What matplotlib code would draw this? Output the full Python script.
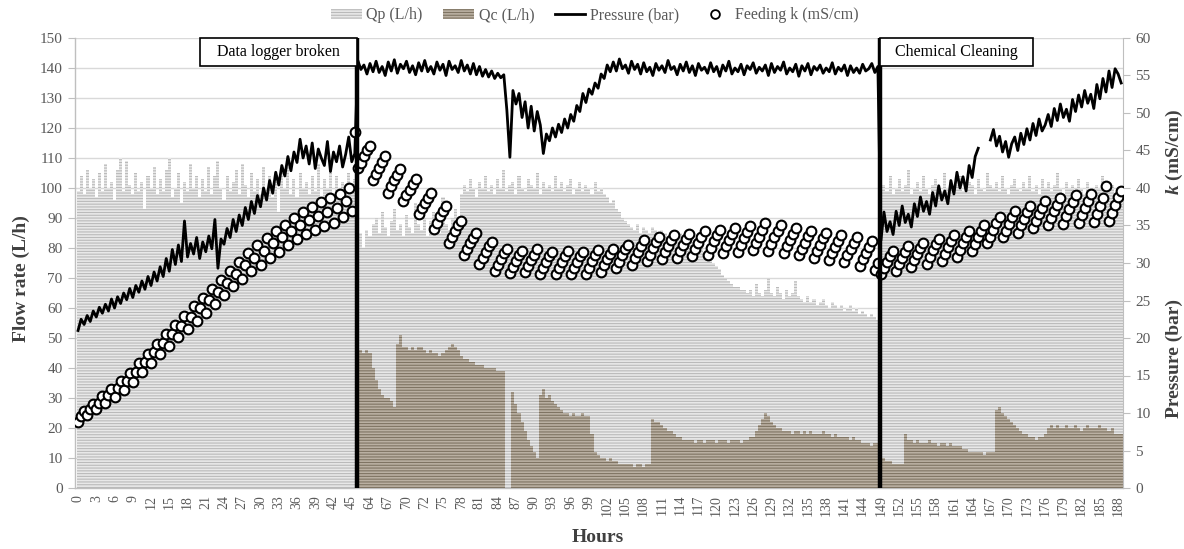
import numpy as np
import matplotlib
matplotlib.use("Agg")
import matplotlib.pyplot as plt
from matplotlib.patches import Patch, Rectangle
from matplotlib.lines import Line2D

# ---------------------------------------------------------------- data
# x-axis tick labels (hours), one label every few logged samples
hour_labels = [0, 3, 6, 9, 12, 15, 18, 21, 24, 27, 30, 33, 36, 39, 42, 45,
               64, 67, 70, 72, 75, 78, 81, 84, 87, 90, 93, 96, 99, 102, 105,
               108, 111, 114, 117, 120, 123, 126, 129, 132, 135, 138, 141, 144,
               149, 152, 155, 158, 161, 164, 167, 170, 173, 176, 179, 182, 185, 188]

# permeate flow Qp (L/h): before logger break / until cleaning / after cleaning
qp_first = [99, 104, 98, 106, 100, 103, 97, 105, 99, 108, 100, 102, 96, 106, 110, 99, 109, 101, 98, 105, 99, 102, 93, 104,
            100, 107, 98, 103, 99, 106, 110, 97, 100, 105, 95, 102, 99, 108, 100, 104, 97, 103, 99, 107, 98, 104, 109, 100,
            96, 104, 99, 102, 106, 98, 108, 101, 97, 105, 99, 103, 98, 107, 100, 104, 97, 102, 92, 106, 100, 110, 98, 103,
            97, 105, 100, 102, 98, 104, 99, 108, 96, 103, 100, 106, 98, 104, 99, 102, 100, 105, 98, 103]
qp_second = [82, 85, 80, 86, 84, 88, 90, 85, 92, 87, 84, 89, 93, 86, 88, 84, 91, 87, 85, 95, 88, 86, 90, 84, 89, 92, 87, 85, 97, 88, 86, 90, 93, 89,
             98, 101, 99, 103, 100, 97, 102, 100, 104, 99, 101, 98, 103, 100, 106, 99, 101, 102, 98, 104, 100, 99, 103, 101,
             100, 105, 98, 102, 100, 101, 99, 104, 100, 102, 99, 101, 103, 98, 100, 102, 99, 101, 100, 98, 102, 99, 100,
             98, 97, 95, 96, 93, 92, 90, 89,
             88, 87, 86, 88, 85, 87, 86, 85, 87, 86, 84, 86, 85, 84, 85, 83, 84, 85, 83, 82, 84, 82, 81, 82,
             80, 78, 79, 76, 75, 74, 73, 71, 70, 69, 68, 67, 67, 66, 66,
             65, 66, 64, 68, 65, 64, 66, 70, 65, 64, 67, 65, 63, 66, 64, 65, 69, 64,
             63, 62, 64, 62, 63, 61, 62, 63, 61, 60, 62, 61, 60, 61, 59, 60, 61, 59, 60, 58, 59, 58, 57, 58, 57, 56]
qp_third = [97, 101, 99, 104, 98, 100, 103, 99, 101, 106, 98, 100, 102, 99, 104, 100, 98, 101, 103, 100, 99, 105, 100, 102,
            98, 101, 104, 99, 100, 102, 101, 98, 103, 100, 99, 105, 101, 100, 102, 99, 104, 100, 98, 101, 103, 100, 99, 102,
            100, 104, 99, 101, 98, 103, 100, 102, 99, 101, 105, 100, 98, 102, 100, 101, 99, 103, 100, 98, 102, 100,
            99, 101, 100, 104, 99, 100, 101, 98, 100, 99]

# concentrate flow Qc (L/h); nothing logged during the first period
qc_first = [0] * 92
qc_second = [44, 46, 45, 46, 45, 40, 36, 33, 31, 30, 30, 29, 27,
             48, 51, 47, 47, 46, 47, 46, 47, 47, 46, 45, 46, 45, 45, 44, 45, 46, 47, 48, 47,
             46, 44, 43, 43, 42, 42, 41, 41, 41, 40, 40, 40, 40, 39, 39, 39,
             0, 0,
             32, 28, 25, 22, 19, 16, 14, 12, 10,
             31, 33, 30, 31, 29, 28,
             27, 26, 25, 25, 24, 25, 24, 24, 25, 24, 24,
             18, 12, 11, 10, 10, 9, 10, 9, 9, 8, 8, 8, 8, 8, 7, 8, 8, 7, 8, 8,
             23, 22, 22, 21, 20, 19, 19, 18, 17, 17, 16, 16, 16,
             16, 15, 16, 16, 15, 16, 16, 16, 15, 16, 16, 16, 15, 16, 16, 16, 15, 16, 16, 17, 17,
             19, 21, 23, 25, 24, 22,
             21, 20, 20, 19, 19, 19, 18, 19, 19, 18, 19, 18, 19, 18, 18, 18, 19, 18, 18,
             17, 18, 17, 17, 17, 17, 16, 17, 16, 16,
             15, 15, 15, 14, 15, 15]
qc_third = [11, 10, 9, 9, 8, 8, 8, 8,
            18, 16, 16, 15, 16, 15, 15, 15, 16, 15, 15, 14, 15, 15, 14, 15, 14, 14, 14,
            13, 13, 12, 12, 12, 12, 12, 11, 12, 12, 12,
            26, 27, 25, 24, 23, 22, 21, 20, 19, 18, 18, 17,
            17, 16, 17, 17, 18,
            20, 21, 20, 21, 20, 20, 21, 20, 20, 21, 20, 19, 20, 21, 20, 20, 20, 21, 20, 20, 19, 20, 18, 18, 18]

# operating pressure (bar); nan = no reading
nan = np.nan
pressure_first = [21.0, 22.5, 21.8, 23.0, 22.2, 23.6, 22.8, 24.1, 23.3, 24.5, 23.6, 25.2, 24.0, 25.5, 24.6, 26.0, 25.1, 26.6, 25.4, 27.0, 26.1, 27.6, 26.5, 28.2,
                  27.0, 28.8, 27.6, 29.5, 28.2, 30.6, 28.9, 31.8, 29.8, 32.4, 30.2, 35.6, 30.8, 32.6, 31.2, 33.4, 30.6, 32.8, 31.5, 33.6, 31.9, 35.8, 29.3, 33.2,
                  32.5, 34.6, 33.4, 35.8, 34.2, 36.4, 35.0, 37.4, 35.8, 38.2, 36.6, 39.0, 37.5, 40.0, 38.4, 41.0, 39.3, 42.1, 40.4, 43.0, 41.6, 44.2, 42.3, 44.8,
                  43.4, 46.5, 44.0, 45.6, 43.2, 46.0, 42.6, 45.2, 44.0, 43.0, 46.2, 42.2, 44.8, 43.5, 45.6, 42.8, 44.5, 46.8, 43.5, 44.6]
pressure_second = [57.0, 55.8, 56.4, 55.2, 56.6, 55.5, 56.9, 55.4, 56.2, 55.0, 56.8, 55.6, 57.1, 55.3, 56.5, 55.9, 56.9, 55.4, 56.3, 55.1, 56.7, 55.6, 57.0, 55.5,
                   56.2, 55.2, 56.8, 55.7, 56.5, 55.0, 56.9, 55.8, 56.3, 55.4, 57.0, 55.6, 56.4, 55.2, 56.6, 55.1, 56.2, 54.9, 55.8, 54.8, 55.6, 54.6, 55.3, 54.7, 55.1,
                   50.4, 44.1, 53.0, 51.2, 52.6, 49.4, 51.5, 48.0, 50.9, 47.6, 50.2, 48.4,
                   44.6, 47.2, 46.3, 48.0, 46.8, 48.5, 47.4, 49.2, 48.0, 49.8, 48.9, 51.0, 50.2, 52.6, 51.4, 53.2, 52.5, 54.0, 53.3, 55.2, 54.6, 56.4, 55.5,
                   56.8, 55.6, 57.2, 55.9, 56.4, 55.3, 56.9, 55.8, 56.5, 55.2, 56.7, 55.5, 56.1, 55.0, 56.6, 55.7, 56.3, 55.4, 57.0, 55.8, 56.2, 55.1, 56.5, 55.6,
                   56.8, 55.4, 56.3, 55.0, 56.6, 55.7, 56.1, 55.3, 56.7, 55.5, 56.2, 54.9, 56.4, 55.6, 56.9, 55.2, 56.0, 55.5, 56.5, 55.1, 56.3, 55.8, 56.7, 55.3,
                   56.1, 55.6, 56.4, 55.0, 56.6, 55.4, 56.2, 55.7, 56.8, 55.2, 56.0, 55.5, 56.5, 54.9, 56.3, 55.6, 56.6, 55.1, 56.2, 55.7, 56.4, 55.3, 56.0, 55.5,
                   56.7, 55.2, 56.1, 55.6, 56.4, 55.0, 56.3, 55.4, 56.0, 55.3, 56.5, 55.6, 55.9, 56.6, 55.4, 56.2]
pressure_third = [33.0, 36.8, 34.2, 35.5, 33.8, 36.9, 35.0, 37.6, 35.4, 36.5, 34.8, 37.9, 36.2, 38.8, 36.9, 38.2, 36.5, 39.4, 37.6, 40.3,
                  38.4, 39.6, 37.9, 41.0, 39.2, 42.1, 40.0, 41.5, 39.6, 43.0, 41.4, 44.2, 45.3,
                  nan, nan, nan,
                  46.4, 47.8, 45.6, 46.9, 44.8, 46.2, 44.1, 45.9, 46.8, 45.0, 47.3, 45.8, 47.9, 46.4, 48.6, 47.0, 49.2, 47.6, 48.4, 49.8,
                  48.2, 50.6, 49.0, 51.2, 49.4, 50.5, 48.9, 51.8, 50.2, 52.4, 50.8, 53.0, 51.3, 52.5, 50.6, 53.8, 51.9, 54.6, 52.8, 55.6,
                  53.4, 55.9, 55.2, 54.0]

# feed conductivity k (mS/cm)
k_first = [8.8, 9.6, 10.3, 9.7, 10.6, 11.2, 10.5, 11.4, 12.3, 11.3, 12.4, 13.2, 12.2, 13.3, 14.3, 13.1, 14.3, 15.4,
           14.2, 15.5, 16.7, 15.5, 16.8, 17.9, 16.7, 18.1, 19.2, 17.9, 19.3, 20.5, 19.0, 20.5, 21.8, 20.1, 21.6, 23.0,
           21.2, 22.8, 24.3, 22.3, 24.0, 25.4, 23.4, 25.1, 26.6, 24.5, 26.2, 27.8, 25.7, 27.4, 29.0, 26.9, 28.6, 30.2,
           27.9, 29.7, 31.3, 28.9, 30.7, 32.4, 29.8, 31.6, 33.3, 30.7, 32.6, 34.2, 31.5, 33.4, 35.1, 32.4, 34.3, 36.0,
           33.2, 35.1, 36.8, 33.9, 35.8, 37.5, 34.4, 36.3, 38.1, 34.9, 36.8, 38.6, 35.4, 37.3, 39.2, 36.1, 38.2, 40.0,
           36.9, 47.5]
k_second = [42.6, 43.4, 44.2, 45.0, 45.6, 41.0, 41.9, 42.7, 43.5, 44.2, 39.4, 40.3, 41.1, 41.8, 42.5,
            38.3, 39.0, 39.8, 40.5, 41.2, 36.5, 37.3, 38.0, 38.7, 39.4, 34.5, 35.4, 36.2, 36.9, 37.6,
            32.7, 33.5, 34.2, 35.0, 35.6, 31.0, 31.9, 32.6, 33.3, 34.0, 29.9, 30.7, 31.5, 32.2, 32.8,
            29.0, 29.8, 30.6, 31.3, 31.9, 28.7, 29.5, 30.3, 31.0, 31.6, 28.8, 29.6, 30.4, 31.1, 31.8,
            28.6, 29.4, 30.2, 30.9, 31.5, 28.5, 29.3, 30.1, 30.9, 31.6, 28.5, 29.4, 30.2, 30.9, 31.5,
            28.6, 29.4, 30.3, 31.0, 31.7, 28.8, 29.7, 30.5, 31.2, 31.9, 29.3, 30.2, 31.0, 31.8, 32.4,
            29.8, 30.7, 31.5, 32.3, 33.0, 30.3, 31.1, 32.0, 32.8, 33.5, 30.5, 31.4, 32.2, 33.0, 33.7,
            30.7, 31.6, 32.4, 33.2, 33.9, 30.9, 31.8, 32.7, 33.5, 34.2, 31.1, 32.0, 32.9, 33.7, 34.4,
            31.3, 32.2, 33.1, 33.9, 34.7, 31.5, 32.4, 33.3, 34.1, 34.9, 31.7, 32.6, 33.5, 34.4, 35.3,
            31.6, 32.5, 33.4, 34.3, 35.0, 31.3, 32.2, 33.1, 33.9, 34.6, 31.0, 31.9, 32.7, 33.6, 34.3,
            30.7, 31.6, 32.4, 33.3, 34.0, 30.4, 31.3, 32.1, 32.9, 33.7, 30.1, 31.0, 31.8, 32.6, 33.4,
            29.6, 30.5, 31.3, 32.1, 32.9, 29.1, 30.0]
k_third = [28.5, 29.3, 30.1, 30.9, 31.6, 29.0, 29.9, 30.7, 31.5, 32.2, 29.5, 30.4, 31.2, 32.0, 32.7,
           29.9, 30.8, 31.7, 32.5, 33.2, 30.3, 31.2, 32.1, 32.9, 33.7, 30.8, 31.7, 32.6, 33.4, 34.2,
           31.6, 32.5, 33.4, 34.3, 35.1, 32.6, 33.5, 34.4, 35.3, 36.1, 33.4, 34.3, 35.2, 36.1, 36.9,
           34.0, 35.0, 35.9, 36.8, 37.6, 34.6, 35.6, 36.5, 37.4, 38.2, 35.0, 36.0, 36.9, 37.8, 38.6,
           35.2, 36.2, 37.2, 38.1, 39.0, 35.4, 36.4, 37.4, 38.3, 39.2, 35.5, 36.5, 37.6, 38.6, 40.2,
           35.6, 36.7, 37.8, 38.8, 39.6]

qp = np.array(qp_first + qp_second + qp_third, dtype=float)
qc = np.array(qc_first + qc_second + qc_third, dtype=float)
pressure = np.array(pressure_first + pressure_second + pressure_third, dtype=float)
k_feed = np.array(k_first + k_second + k_third, dtype=float)

# ---------------------------------------------------------------- style
plt.rcParams["font.family"] = ["Liberation Serif", "DejaVu Serif"]
plt.rcParams["hatch.linewidth"] = 0.8
plt.rcParams["mathtext.fontset"] = "custom"
plt.rcParams["mathtext.it"] = "Liberation Serif:italic:bold"
plt.rcParams["mathtext.rm"] = "Liberation Serif:bold"

TXT = "#595959"
AXC = "#bfbfbf"
QP_FACE, QP_HATCH = "#e8e8e8", "#bababa"
QC_FACE, QC_HATCH = "#bab0a2", "#7f7463"
SAMPLES_PER_TICK = 6

fig = plt.figure(figsize=(11.84, 5.49), dpi=100)
ax = fig.add_axes([75 / 1184, 61 / 549, 1048 / 1184, 450 / 549])

x = np.arange(len(qp))
ax.bar(x, qp, width=1.0, color=QP_FACE, edgecolor=QP_HATCH, hatch="------", linewidth=0, zorder=2)
ax.bar(x, qc, width=1.0, color=QC_FACE, edgecolor=QC_HATCH, hatch="------", linewidth=0, zorder=3)

ax.set_xlim(-1.0, 343.6)
ax.set_ylim(0, 150)
ax.set_yticks(np.arange(0, 151, 10))
ax.set_xticks(np.arange(len(hour_labels)) * SAMPLES_PER_TICK)
ax.set_xticklabels([str(h) for h in hour_labels], rotation=90)
ax.tick_params(axis="x", length=0, pad=5, labelsize=10, labelcolor=TXT)
ax.tick_params(axis="y", direction="out", length=5, color=AXC, labelsize=11, labelcolor=TXT, pad=4)
ax.grid(axis="y", color="#d9d9d9", lw=1.0)
ax.set_axisbelow(True)
for side in ("top", "right"):
    ax.spines[side].set_visible(False)
for side in ("left", "bottom"):
    ax.spines[side].set_color(AXC)
    ax.spines[side].set_linewidth(1.0)

ax2 = ax.twinx()
ax2.set_ylim(0, 60)
ax2.set_yticks(np.arange(0, 61, 5))
ax2.tick_params(axis="y", direction="out", length=5, color=AXC, labelsize=11, labelcolor=TXT, pad=4)
for side in ("top", "left", "bottom"):
    ax2.spines[side].set_visible(False)
ax2.spines["right"].set_color(AXC)

ax2.plot(x, pressure, color="black", lw=2.0, zorder=3)
ax2.plot(x, k_feed, "o", ms=7.0, mfc="white", mec="black", mew=1.5, zorder=4)

# event markers and annotation boxes
break_x, cleaning_x = 91.6, 263.8
for xv in (break_x, cleaning_x):
    ax2.axvline(xv, color="black", lw=3.2, zorder=5)

for x0, x1, label in ((40.1, break_x, "Data logger broken"), (cleaning_x, 314.0, "Chemical Cleaning")):
    ax2.add_patch(Rectangle((x0, 140.7), x1 - x0, 9.3, transform=ax.transData,
                            facecolor="white", edgecolor="black", lw=1.2, zorder=6, clip_on=False))
    ax2.text((x0 + x1) / 2, 145.3, label, transform=ax.transData, ha="center", va="center",
             fontsize=11.5, color="black", zorder=7)

# axis titles
fig.text(21 / 1184, 1 - 279 / 549, "Flow rate (L/h)", rotation=90, ha="center", va="center",
         fontsize=14, fontweight="bold", color="#404040")
fig.text(1174 / 1184, 1 - 152 / 549, r"$k$ (mS/cm)", rotation=90, ha="center", va="center",
         fontsize=14, fontweight="bold", color="#404040")
fig.text(1174 / 1184, 1 - 358 / 549, "Pressure (bar)", rotation=90, ha="center", va="center",
         fontsize=14, fontweight="bold", color="#404040")
fig.text(598 / 1184, 1 - 537 / 549, "Hours", ha="center", va="center",
         fontsize=14, fontweight="bold", color="#404040")

handles = [
    Patch(facecolor=QP_FACE, edgecolor=QP_HATCH, hatch="------", lw=0),
    Patch(facecolor=QC_FACE, edgecolor=QC_HATCH, hatch="------", lw=0),
    Line2D([], [], color="black", lw=2.0),
    Line2D([], [], ls="none", marker="o", ms=6.3, mfc="white", mec="black", mew=1.3),
]
labels = ["Qp (L/h)", "Qc (L/h)", "Pressure (bar)", "Feeding k (mS/cm)"]
fig.legend(handles, labels, loc="center", bbox_to_anchor=(0.5025, 0.972), ncol=4, frameon=False,
           fontsize=11.5, labelcolor=TXT, handlelength=1.9, handleheight=0.55, columnspacing=1.3,
           handletextpad=0.3)

fig.savefig("out.png", dpi=100)
